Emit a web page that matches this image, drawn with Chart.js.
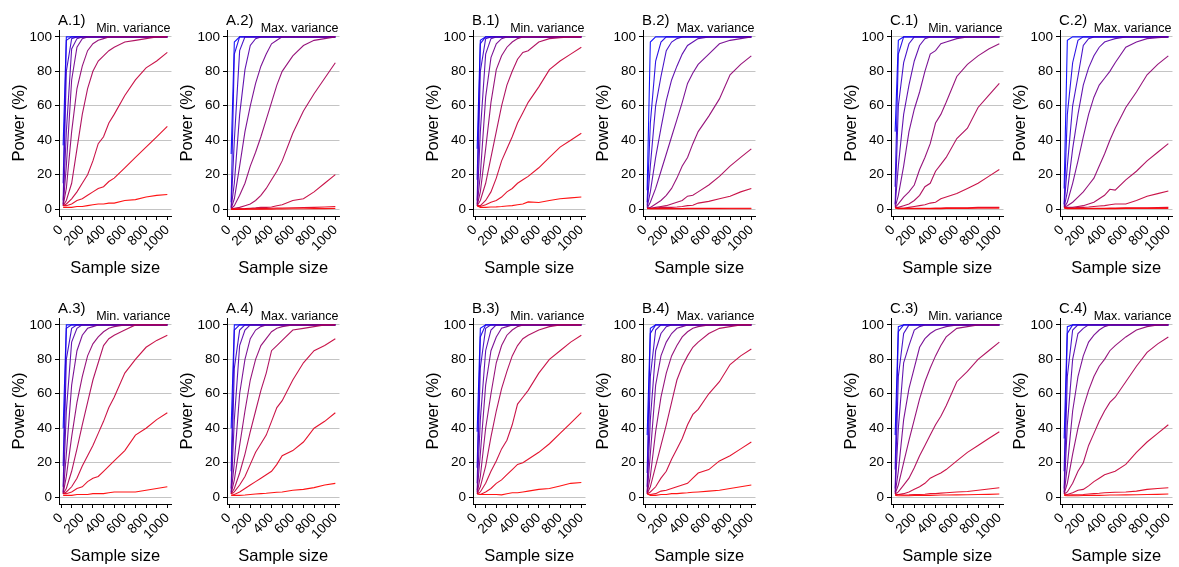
<!DOCTYPE html>
<html>
<head>
<meta charset="utf-8">
<script src="https://cdn.jsdelivr.net/npm/chart.js@4.4.1/dist/chart.umd.min.js"></script>
<style>
    html, body { margin: 0; padding: 0; background: #fff; }
    body { width: 1179px; height: 567px; position: relative; overflow: hidden; }
    .panel { position: absolute; width: 181px; height: 290px; }
</style>
</head>
<body>
<script>
/* =========================
   DATA
========================= */

const sampleSizes = [20, 50, 100, 150, 200, 250, 300, 350, 400, 450, 500, 600, 700, 800, 900, 1000];
const yTicks = [0, 20, 40, 60, 80, 100];
const xTicks = [0, 100, 200, 300, 400, 500, 600, 700, 800, 900, 1000];
const xLabelTicks = [0, 200, 400, 600, 800, 1000];

const panelNames = ["A.1)", "A.2)", "B.1)", "B.2)", "C.1)", "C.2)",
                    "A.3)", "A.4)", "B.3)", "B.4)", "C.3)", "C.4)"];
const varianceLabels = ["Min. variance", "Max. variance", "Min. variance", "Max. variance", "Min. variance", "Max. variance",
                        "Min. variance", "Max. variance", "Min. variance", "Max. variance", "Min. variance", "Max. variance"];

// power (%) per curve, blue (first) to red (last)
const powerA1 = [
    [37, 100, 100, 100, 100, 100, 100, 100, 100, 100, 100, 100, 100, 100, 100, 100],
    [15, 98, 100, 100, 100, 100, 100, 100, 100, 100, 100, 100, 100, 100, 100, 100],
    [5, 80, 99, 100, 100, 100, 100, 100, 100, 100, 100, 100, 100, 100, 100, 100],
    [3, 45, 93, 99, 100, 100, 100, 100, 100, 100, 100, 100, 100, 100, 100, 100],
    [2, 25, 75, 94, 99, 100, 100, 100, 100, 100, 100, 100, 100, 100, 100, 100],
    [2, 12, 45, 70, 83, 92, 96, 98, 99, 100, 100, 100, 100, 100, 100, 100],
    [2, 5, 15, 35, 55, 70, 80, 86, 89, 92, 94, 97, 98, 99, 100, 100],
    [2, 3, 6, 10, 15, 20, 28, 38, 42, 50, 55, 66, 75, 82, 86, 91],
    [2, 2, 3, 5, 6, 8, 10, 12, 13, 16, 18, 24, 30, 36, 42, 48],
    [1, 1, 1, 1.5, 1.5, 2, 2.5, 3, 3, 3.5, 3.5, 5, 5.5, 7, 8, 8.5]
];
const powerA2 = [
    [32, 97, 100, 100, 100, 100, 100, 100, 100, 100, 100, 100, 100, 100, 100, 100],
    [4, 90, 100, 100, 100, 100, 100, 100, 100, 100, 100, 100, 100, 100, 100, 100],
    [1, 40, 92, 100, 100, 100, 100, 100, 100, 100, 100, 100, 100, 100, 100, 100],
    [0.5, 15, 55, 81, 95, 99, 100, 100, 100, 100, 100, 100, 100, 100, 100, 100],
    [0.3, 6, 25, 45, 60, 73, 83, 90, 96, 98, 100, 100, 100, 100, 100, 100],
    [0.2, 2, 8, 15, 25, 33, 42, 52, 62, 72, 80, 89, 95, 98, 99, 100],
    [0.1, 0.5, 1, 2, 3, 5, 8, 12, 17, 22, 28, 44, 57, 67, 76, 85],
    [0, 0, 0.2, 0.3, 0.5, 0.7, 1, 1, 1.2, 2, 2.5, 5, 6, 10, 15, 20],
    [0, 0, 0, 0.1, 0.2, 0.2, 0.3, 0.4, 0.5, 0.6, 0.6, 0.8, 0.9, 1, 1.2, 1.5],
    [0, 0, 0, 0, 0, 0, 0, 0, 0, 0.1, 0.1, 0.2, 0.2, 0.3, 0.3, 0.4]
];
const powerB1 = [
    [35, 98, 100, 100, 100, 100, 100, 100, 100, 100, 100, 100, 100, 100, 100, 100],
    [17, 96, 100, 100, 100, 100, 100, 100, 100, 100, 100, 100, 100, 100, 100, 100],
    [5, 80, 99, 100, 100, 100, 100, 100, 100, 100, 100, 100, 100, 100, 100, 100],
    [3, 45, 90, 99, 100, 100, 100, 100, 100, 100, 100, 100, 100, 100, 100, 100],
    [2, 20, 65, 88, 96, 99, 100, 100, 100, 100, 100, 100, 100, 100, 100, 100],
    [2, 10, 35, 62, 81, 89, 94, 97, 99, 100, 100, 100, 100, 100, 100, 100],
    [2, 5, 15, 30, 45, 60, 72, 80, 87, 91, 92, 97, 99, 99.5, 100, 100],
    [2, 2, 5, 10, 18, 28, 35, 42, 50, 56, 62, 71, 81, 86, 90, 94],
    [2, 1.5, 2.5, 4, 5, 7, 10, 12, 15, 17, 19, 24, 30, 36, 40, 44],
    [2, 1, 1, 1.2, 1.3, 1.5, 1.8, 2, 2.5, 3, 4.2, 3.8, 5, 6, 6.5, 7]
];
const powerB2 = [
    [11, 97, 100, 100, 100, 100, 100, 100, 100, 100, 100, 100, 100, 100, 100, 100],
    [4, 50, 86, 97, 100, 100, 100, 100, 100, 100, 100, 100, 100, 100, 100, 100],
    [2, 25, 60, 77, 92, 97, 99, 100, 100, 100, 100, 100, 100, 100, 100, 100],
    [1, 10, 30, 47, 63, 75, 83, 90, 95, 97, 99, 100, 100, 100, 100, 100],
    [0.5, 4, 12, 22, 32, 42, 52, 62, 73, 79, 84, 90, 96, 98, 99, 100],
    [0.5, 1, 3, 5, 8, 12, 18, 25, 30, 38, 45, 54, 64, 78, 84, 89],
    [0.5, 0.5, 1, 1.5, 2, 3, 4, 5, 7.5, 8, 10, 14, 19, 25, 30, 35],
    [0.5, 0.5, 0.5, 1, 1, 1, 1.2, 1.5, 2, 2.2, 3.5, 4.5, 6, 7.5, 10, 12],
    [0.5, 0.3, 0.3, 0.3, 0.3, 0.3, 0.3, 0.3, 0.4, 0.4, 0.4, 0.4, 0.4, 0.5, 0.5, 0.5],
    [0.2, 0.2, 0.2, 0.2, 0.2, 0.2, 0.2, 0.2, 0.2, 0.2, 0.2, 0.2, 0.2, 0.2, 0.2, 0.2]
];
const powerC1 = [
    [45, 98, 100, 100, 100, 100, 100, 100, 100, 100, 100, 100, 100, 100, 100, 100],
    [13, 90, 100, 100, 100, 100, 100, 100, 100, 100, 100, 100, 100, 100, 100, 100],
    [3, 60, 85, 96, 100, 100, 100, 100, 100, 100, 100, 100, 100, 100, 100, 100],
    [2, 25, 55, 72, 86, 95, 99, 100, 100, 100, 100, 100, 100, 100, 100, 100],
    [1, 8, 25, 45, 58, 68, 80, 90, 92, 96, 97, 99, 100, 100, 100, 100],
    [1, 3, 7, 10, 14, 23, 30, 38, 50, 55, 62, 77, 84, 89, 93, 96],
    [1, 1, 2, 3, 5, 8, 13, 15, 22, 26, 30, 41, 47, 59, 66, 73],
    [1, 0.5, 0.5, 1, 1.5, 2, 2.5, 3.5, 4, 6, 7, 9, 12, 15, 19, 23],
    [1, 0.5, 0.5, 0.5, 0.5, 0.5, 0.5, 0.5, 0.6, 0.6, 0.7, 0.8, 0.8, 1, 1, 1],
    [0.5, 0.3, 0.3, 0.3, 0.3, 0.3, 0.3, 0.3, 0.3, 0.3, 0.4, 0.4, 0.4, 0.5, 0.5, 0.5]
];
const powerC2 = [
    [12, 98, 100, 100, 100, 100, 100, 100, 100, 100, 100, 100, 100, 100, 100, 100],
    [3, 55, 85, 98, 100, 100, 100, 100, 100, 100, 100, 100, 100, 100, 100, 100],
    [2, 25, 60, 77, 95, 99, 100, 100, 100, 100, 100, 100, 100, 100, 100, 100],
    [1, 10, 35, 55, 72, 82, 89, 94, 97, 98, 99, 100, 100, 100, 100, 100],
    [1, 4, 15, 28, 42, 55, 65, 72, 76, 80, 85, 94, 97, 99, 99.5, 100],
    [1, 2, 4, 7, 10, 14, 18, 25, 32, 40, 47, 59, 68, 78, 84, 89],
    [1, 1, 1, 1.5, 2, 3, 4, 6, 8, 11.5, 11, 17, 22, 28, 33, 38],
    [1, 0.5, 0.5, 1, 1, 1.2, 1.5, 1.8, 2, 2.5, 3, 3, 5, 7.5, 9, 10.5],
    [1, 0.5, 0.5, 0.5, 0.5, 0.5, 0.5, 0.5, 0.5, 0.6, 0.6, 0.7, 0.8, 0.8, 0.9, 1],
    [0.5, 0.3, 0.3, 0.3, 0.3, 0.3, 0.3, 0.3, 0.3, 0.3, 0.3, 0.4, 0.4, 0.4, 0.4, 0.4]
];
const powerA3 = [
    [40, 100, 100, 100, 100, 100, 100, 100, 100, 100, 100, 100, 100, 100, 100, 100],
    [18, 98, 100, 100, 100, 100, 100, 100, 100, 100, 100, 100, 100, 100, 100, 100],
    [6, 80, 98, 100, 100, 100, 100, 100, 100, 100, 100, 100, 100, 100, 100, 100],
    [3, 50, 90, 98, 100, 100, 100, 100, 100, 100, 100, 100, 100, 100, 100, 100],
    [2, 25, 65, 85, 94, 98, 99, 100, 100, 100, 100, 100, 100, 100, 100, 100],
    [2, 12, 35, 55, 70, 82, 89, 93, 96, 98, 99, 100, 100, 100, 100, 100],
    [2, 5, 15, 28, 42, 55, 68, 78, 88, 92, 94, 97, 100, 100, 100, 100],
    [2, 3, 6, 11, 18, 24, 30, 37, 44, 52, 58, 72, 80, 87, 91, 94],
    [2, 2, 3, 5, 6, 9, 11, 12, 15, 18, 21, 27, 36, 40, 45, 49],
    [1, 1, 1, 1.5, 1.5, 1.5, 2, 2, 2, 2.5, 3, 3, 3, 4, 5, 6]
];
const powerA4 = [
    [40, 100, 100, 100, 100, 100, 100, 100, 100, 100, 100, 100, 100, 100, 100, 100],
    [15, 97, 100, 100, 100, 100, 100, 100, 100, 100, 100, 100, 100, 100, 100, 100],
    [5, 75, 97, 100, 100, 100, 100, 100, 100, 100, 100, 100, 100, 100, 100, 100],
    [3, 45, 88, 97, 100, 100, 100, 100, 100, 100, 100, 100, 100, 100, 100, 100],
    [2, 20, 60, 80, 92, 97, 99, 100, 100, 100, 100, 100, 100, 100, 100, 100],
    [2, 10, 30, 50, 68, 80, 88, 92, 96, 98, 99, 100, 100, 100, 100, 100],
    [2, 5, 14, 25, 38, 50, 62, 72, 85, 88, 91, 97, 98, 99, 100, 100],
    [2, 3, 7, 12, 19, 26, 31, 36, 44, 52, 56, 68, 78, 85, 88, 92],
    [2, 1.5, 3, 5, 7, 9, 11, 13, 15, 19, 24, 27, 32, 40, 44, 49],
    [1, 1, 1, 1.2, 1.5, 1.8, 2, 2.2, 2.5, 2.8, 3, 4, 4.5, 5.5, 7, 8]
];
const powerB3 = [
    [38, 98, 100, 100, 100, 100, 100, 100, 100, 100, 100, 100, 100, 100, 100, 100],
    [17, 93, 100, 100, 100, 100, 100, 100, 100, 100, 100, 100, 100, 100, 100, 100],
    [8, 75, 98, 100, 100, 100, 100, 100, 100, 100, 100, 100, 100, 100, 100, 100],
    [4, 45, 85, 97, 100, 100, 100, 100, 100, 100, 100, 100, 100, 100, 100, 100],
    [3, 25, 65, 85, 93, 98, 99, 100, 100, 100, 100, 100, 100, 100, 100, 100],
    [2, 12, 40, 60, 78, 88, 94, 97, 99, 100, 100, 100, 100, 100, 100, 100],
    [2, 6, 18, 35, 50, 63, 73, 82, 88, 92, 94, 97, 99, 100, 100, 100],
    [2, 3, 8, 15, 21, 28, 33, 42, 54, 58, 62, 72, 80, 85, 90, 94],
    [2, 1.5, 3, 5, 8, 10, 13, 16, 19, 20, 22, 26, 31, 37, 43, 49],
    [2, 1.5, 1.5, 1.5, 1.5, 1.3, 2, 2.5, 2.5, 3, 3.5, 4.5, 5, 6.5, 8, 8.5]
];
const powerB4 = [
    [36, 98, 100, 100, 100, 100, 100, 100, 100, 100, 100, 100, 100, 100, 100, 100],
    [14, 95, 100, 100, 100, 100, 100, 100, 100, 100, 100, 100, 100, 100, 100, 100],
    [6, 70, 97, 100, 100, 100, 100, 100, 100, 100, 100, 100, 100, 100, 100, 100],
    [3, 45, 85, 95, 99, 100, 100, 100, 100, 100, 100, 100, 100, 100, 100, 100],
    [2, 25, 65, 82, 90, 95, 98, 99, 100, 100, 100, 100, 100, 100, 100, 100],
    [2, 12, 38, 58, 72, 82, 88, 93, 96, 98, 99, 100, 100, 100, 100, 100],
    [2, 6, 18, 30, 42, 55, 68, 76, 82, 87, 90, 95, 98, 99, 100, 100],
    [2, 3, 6, 11, 15, 22, 28, 34, 42, 48, 51, 60, 67, 77, 82, 86],
    [2, 1.5, 2, 3.5, 4, 5, 6, 7, 8, 11, 14, 16, 21, 24, 28, 32],
    [2, 1, 1, 1.5, 1.5, 2, 2, 2.3, 2.5, 2.8, 3, 3.5, 4, 5, 6, 7]
];
const powerC3 = [
    [36, 99, 100, 100, 100, 100, 100, 100, 100, 100, 100, 100, 100, 100, 100, 100],
    [16, 96, 100, 100, 100, 100, 100, 100, 100, 100, 100, 100, 100, 100, 100, 100],
    [5, 70, 95, 100, 100, 100, 100, 100, 100, 100, 100, 100, 100, 100, 100, 100],
    [3, 40, 78, 88, 97, 99, 100, 100, 100, 100, 100, 100, 100, 100, 100, 100],
    [2, 15, 45, 63, 75, 87, 92, 95, 97, 98, 99, 100, 100, 100, 100, 100],
    [2, 7, 20, 33, 45, 57, 67, 75, 82, 88, 93, 98, 99, 100, 100, 100],
    [2, 3, 7, 11, 17, 24, 30, 36, 42, 47, 53, 67, 73, 80, 85, 90],
    [2, 1.5, 2, 3, 4.5, 6, 8, 11, 12.5, 14, 16, 21, 26, 30, 34, 38],
    [1.5, 1.5, 1.2, 1.3, 1.5, 1.5, 1.7, 2, 2, 2.3, 2.5, 3, 3.3, 4, 4.7, 5.4],
    [1, 0.8, 0.8, 0.8, 0.9, 1, 1, 1, 1.1, 1.2, 1.2, 1.3, 1.4, 1.5, 1.6, 1.8]
];
const powerC4 = [
    [34, 99, 100, 100, 100, 100, 100, 100, 100, 100, 100, 100, 100, 100, 100, 100],
    [15, 95, 100, 100, 100, 100, 100, 100, 100, 100, 100, 100, 100, 100, 100, 100],
    [5, 70, 97, 100, 100, 100, 100, 100, 100, 100, 100, 100, 100, 100, 100, 100],
    [3, 42, 80, 95, 98, 100, 100, 100, 100, 100, 100, 100, 100, 100, 100, 100],
    [2, 18, 50, 70, 82, 90, 94, 97, 99, 100, 100, 100, 100, 100, 100, 100],
    [2, 8, 25, 40, 52, 62, 70, 76, 80, 85, 88, 93, 97, 99, 100, 100],
    [2, 3, 8, 15, 20, 30, 37, 44, 50, 55, 58, 67, 76, 84, 89, 93],
    [2, 1.5, 2.5, 4, 4.5, 6.5, 9, 11, 13, 14, 15, 19, 26, 32, 37, 42],
    [1.5, 1.2, 1.3, 1.4, 1.5, 1.8, 2, 2.2, 2.5, 2.7, 2.8, 3, 3.5, 4.5, 5, 5.4],
    [1, 0.8, 0.8, 0.8, 0.9, 1, 1, 1, 1.1, 1.2, 1.2, 1.3, 1.4, 1.5, 1.6, 1.8]
];

const panelPower = [powerA1, powerA2, powerB1, powerB2, powerC1, powerC2,
                    powerA3, powerA4, powerB3, powerB4, powerC3, powerC4];


/* =========================
   LAYOUT
========================= */

const FONT = "'Liberation Sans', Arial, Helvetica, sans-serif";
const colLeft = [59, 227, 473, 643, 891, 1060];   // left edge of each plot area
const rowTop = [0, 288];
const AXIS_W = 59;
const PLOT_W = 116;


/* =========================
   HELPERS
========================= */

function curveColor(i, n) {
    const t = i / (n - 1);
    const r = Math.round(255 * t);
    const b = Math.round(255 * (1 - t));
    return "rgba(" + r + ",0," + b + ",0.92)";
}

const panelLabelPlugin = {
    id: "panelLabels",
    afterDraw(chart, args, opts) {
        const { ctx, chartArea } = chart;
        ctx.save();
        ctx.fillStyle = "#000";
        ctx.textBaseline = "middle";
        ctx.textAlign = "left";
        ctx.font = "15px " + FONT;
        ctx.fillText(opts.name, chartArea.left - 1, 21);
        ctx.textAlign = "right";
        ctx.font = "12.5px " + FONT;
        ctx.fillText(opts.variance, chartArea.right - 1, 29);
        ctx.restore();
    }
};


/* =========================
   BUILD PANELS
========================= */

function renderPanel(index) {
    const col = index % 6;
    const row = Math.floor(index / 6);

    const box = document.createElement("div");
    box.className = "panel";
    box.style.left = (colLeft[col] - AXIS_W) + "px";
    box.style.top = rowTop[row] + "px";
    const canvas = document.createElement("canvas");
    canvas.width = 181;
    canvas.height = 290;
    box.appendChild(canvas);
    document.body.appendChild(box);

    const curves = panelPower[index];
    const datasets = curves.map((vals, i) => ({
        data: vals.map((v, k) => ({ x: sampleSizes[k], y: v })),
        borderColor: curveColor(i, curves.length),
        borderWidth: 1.1,
        pointRadius: 0,
        fill: false,
        tension: 0,
        order: curves.length - i
    }));

    new Chart(canvas, {
        type: "line",
        data: { datasets: datasets },
        plugins: [panelLabelPlugin],
        options: {
            responsive: false,
            animation: false,
            devicePixelRatio: 1,
            layout: { padding: { top: 30, right: 181 - AXIS_W - PLOT_W, left: 0, bottom: 0 } },
            plugins: {
                legend: { display: false },
                tooltip: { enabled: false },
                panelLabels: { name: panelNames[index], variance: varianceLabels[index] }
            },
            scales: {
                x: {
                    type: "linear",
                    min: -19,
                    max: 1039,
                    afterBuildTicks: (scale) => { scale.ticks = xTicks.map(v => ({ value: v })); },
                    afterFit: (scale) => { scale.height = 74; },
                    grid: { drawOnChartArea: false, drawTicks: true, tickLength: 4, tickColor: "#000" },
                    border: { display: true, color: "#000", width: 1 },
                    ticks: {
                        autoSkip: false,
                        minRotation: 45,
                        maxRotation: 45,
                        padding: 2,
                        color: "#000",
                        font: { family: FONT, size: 13.5 },
                        callback: (v) => xLabelTicks.includes(v) ? String(v) : ""
                    },
                    title: {
                        display: true,
                        text: "Sample size",
                        color: "#000",
                        font: { family: FONT, size: 16.5 },
                        padding: { top: 0, bottom: 12 }
                    }
                },
                y: {
                    min: -4,
                    max: 104,
                    afterBuildTicks: (scale) => { scale.ticks = yTicks.map(v => ({ value: v })); },
                    afterFit: (scale) => { scale.width = AXIS_W; },
                    grid: { color: "#c4c4c4", lineWidth: 1, drawTicks: true, tickLength: 4, tickColor: "#000" },
                    border: { display: true, color: "#000", width: 1 },
                    ticks: {
                        padding: 3,
                        color: "#000",
                        font: { family: FONT, size: 13.5 }
                    },
                    title: {
                        display: true,
                        text: "Power (%)",
                        color: "#000",
                        font: { family: FONT, size: 16.5 },
                        padding: { top: 10, bottom: 0 }
                    }
                }
            }
        }
    });
}

panelNames.forEach((_, i) => renderPanel(i));
</script>
</body>
</html>
